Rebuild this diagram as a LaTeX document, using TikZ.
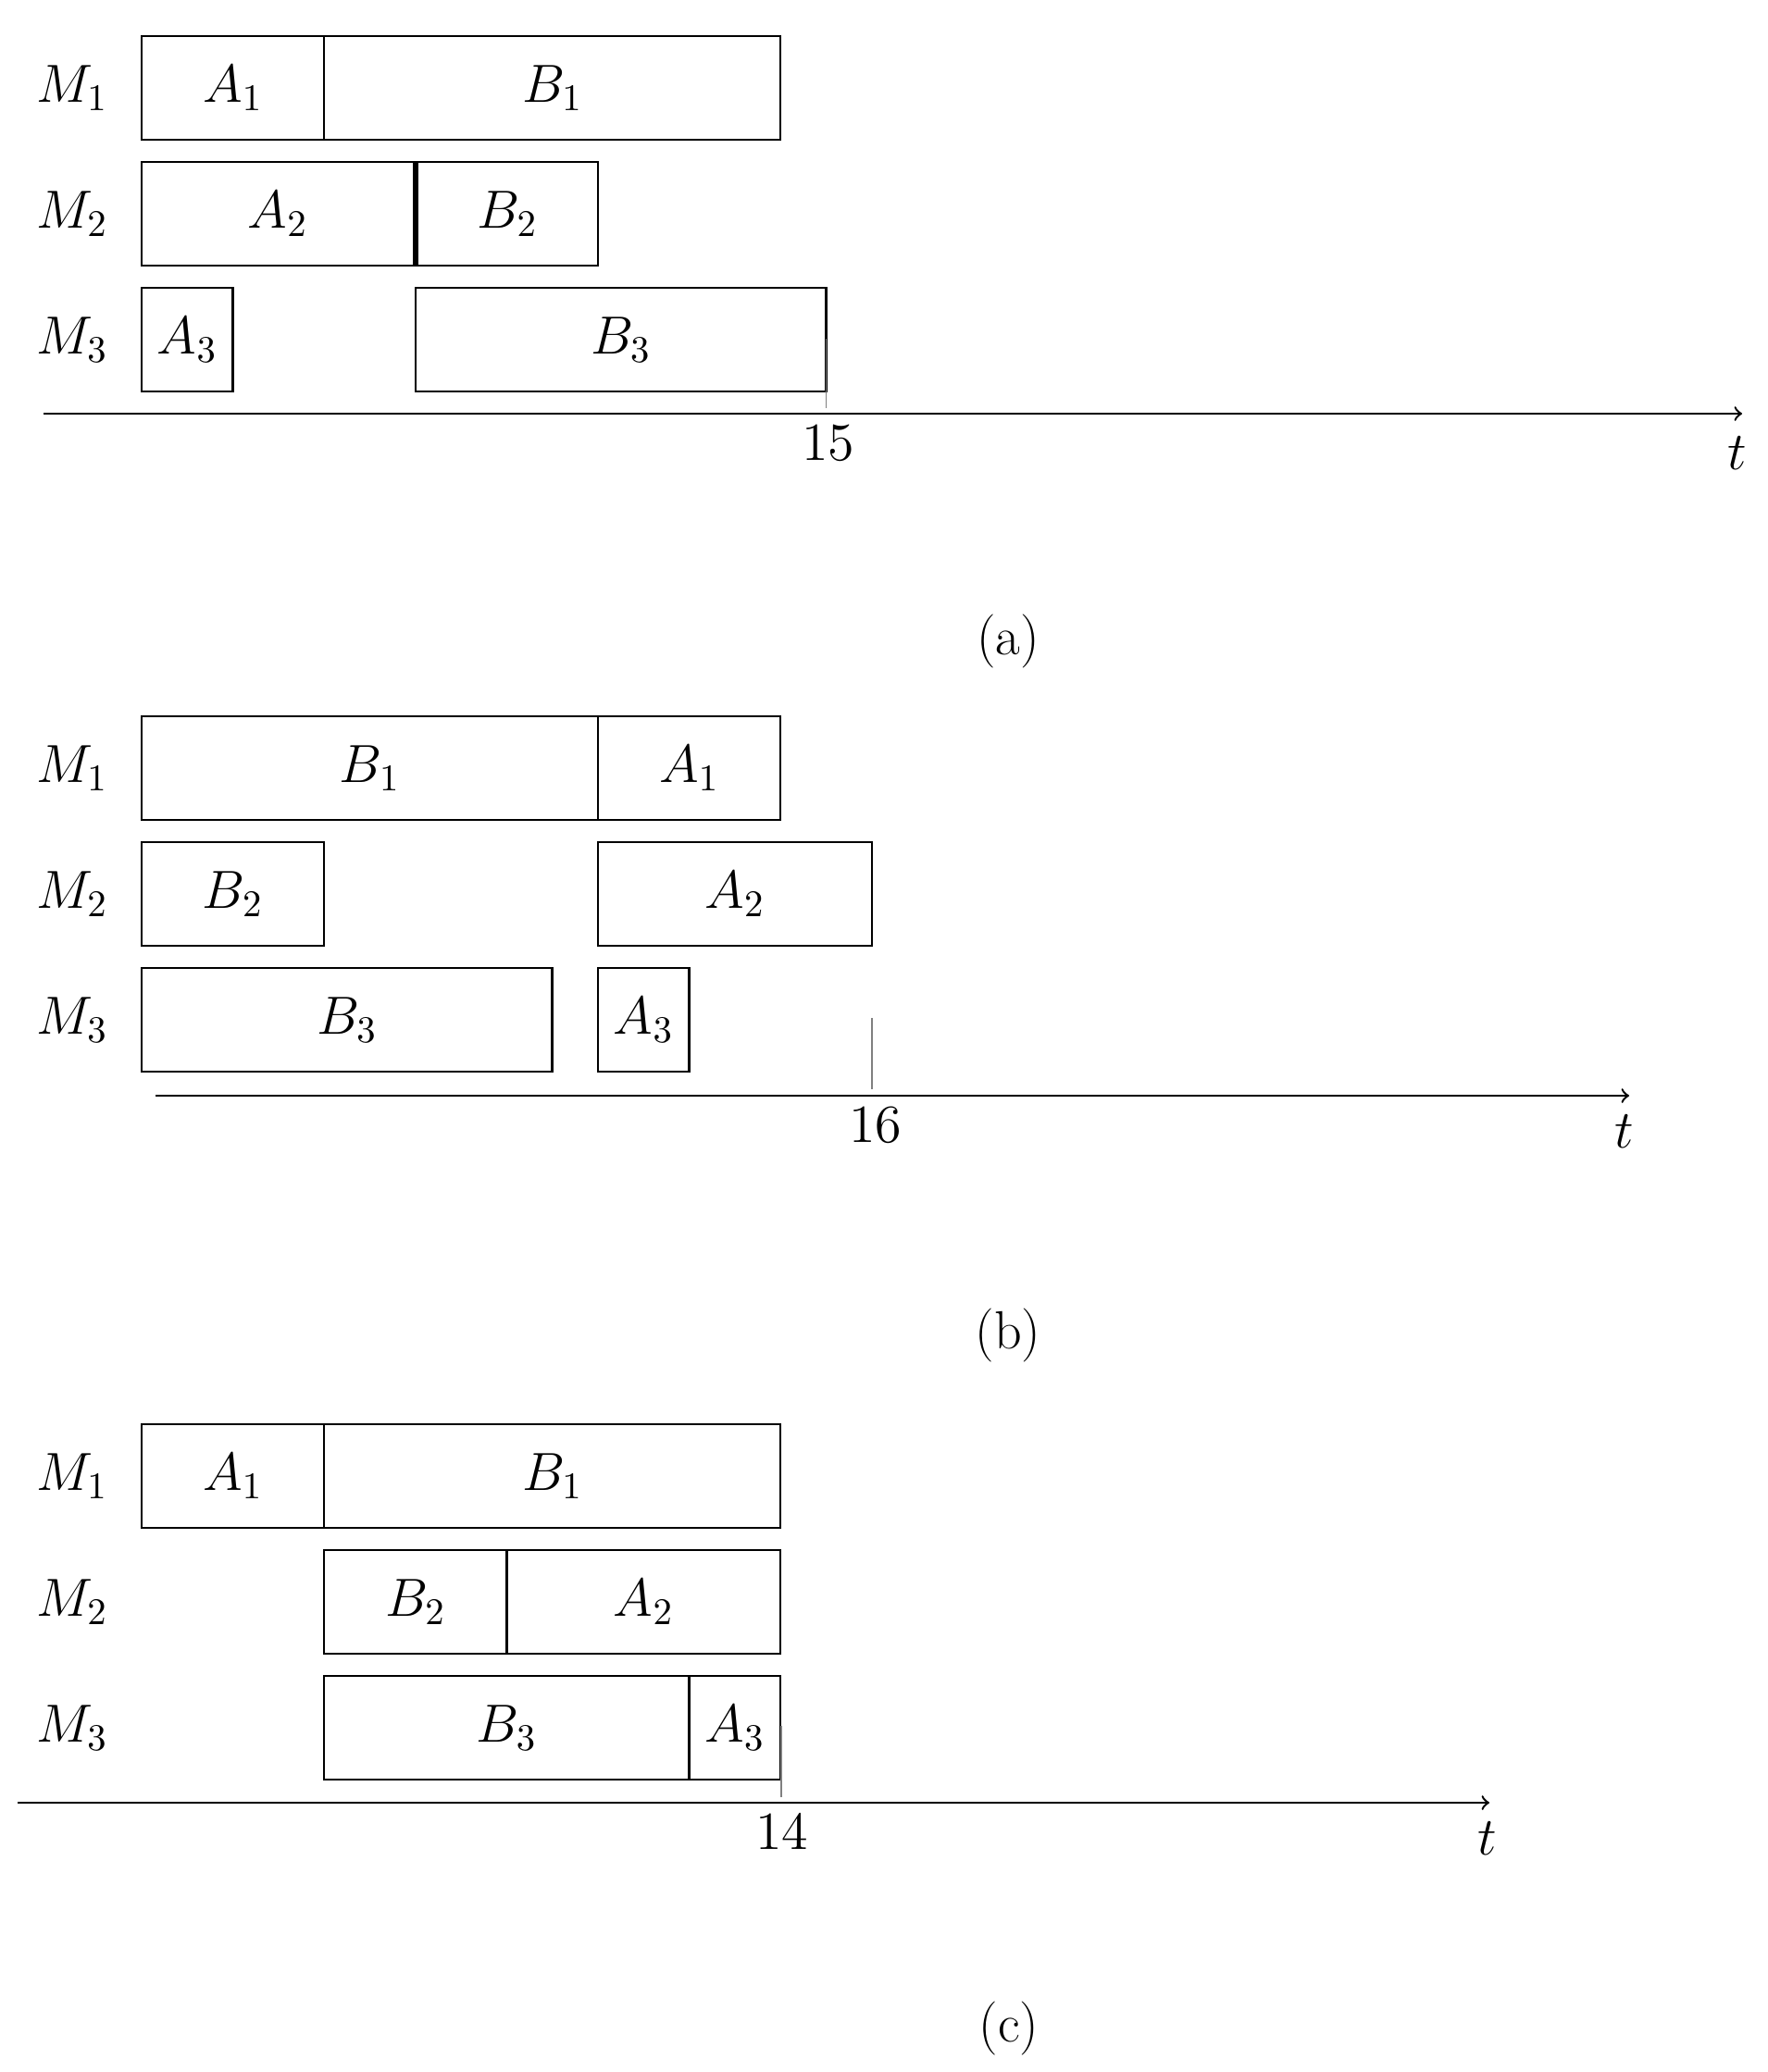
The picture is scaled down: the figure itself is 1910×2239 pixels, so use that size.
\RequirePackage{fix-cm}
\documentclass[tikz,border=0pt]{standalone}
\newcommand\fsz{\fontsize{16.5}{20}\selectfont}
\tikzset{
  jobbox/.style={draw, line width=0.7pt, rectangle, inner sep=0pt, minimum height=1.12cm, font=\fsz},
  lbl/.style={inner sep=0pt, font=\fsz},
  timeaxis/.style={->, line width=0.7pt},
  tickline/.style={draw=gray, line width=0.4pt},
}
% \jobnode{name}{t1}{t2}{ycentre}{label}
\newcommand\jobnode[5]{\node[jobbox, minimum width={49.3*(#3-#2)*0.01cm}] (#1) at ({153+49.3*(#2+#3)/2},#4) {$#5$};}
\begin{document}
\begin{tikzpicture}[x=0.01cm, y=-0.01cm]
\useasboundingbox (0,0) rectangle (1910,2239);

% ---------------- (a) ----------------
\node[lbl] (a-m1) at (78,95) {$M_1$};
\node[lbl] (a-m2) at (78,231) {$M_2$};
\node[lbl] (a-m3) at (78,367) {$M_3$};
\jobnode{a-A1}{0}{4}{95}{A_1}
\jobnode{a-B1}{4}{14}{95}{B_1}
\jobnode{a-A2}{0}{5.97}{231}{A_2}
\jobnode{a-B2}{6.03}{10}{231}{B_2}
\jobnode{a-A3}{0}{2}{367}{A_3}
\jobnode{a-B3}{6}{15}{367}{B_3}
\coordinate (a-axl) at (47,447);
\coordinate (a-axr) at (1882,447);
\draw[timeaxis] (a-axl) -- (a-axr);
\coordinate (a-tk1) at (892.5,366);
\coordinate (a-tk2) at (892.5,441);
\draw[tickline] (a-tk1) -- (a-tk2);
\node[lbl] (a-15) at (895,479) {$15$};
\node[lbl] (a-t) at (1877,490) {$t$};
\node[lbl] (a-cap) at (1089,693) {(a)};

% ---------------- (b) ----------------
\node[lbl] (b-m1) at (78,830) {$M_1$};
\node[lbl] (b-m2) at (78,966) {$M_2$};
\node[lbl] (b-m3) at (78,1102) {$M_3$};
\jobnode{b-B1}{0}{10}{830}{B_1}
\jobnode{b-A1}{10}{14}{830}{A_1}
\jobnode{b-B2}{0}{4}{966}{B_2}
\jobnode{b-A2}{10}{16}{966}{A_2}
\jobnode{b-B3}{0}{9}{1102}{B_3}
\jobnode{b-A3}{10}{12}{1102}{A_3}
\coordinate (b-axl) at (168,1184);
\coordinate (b-axr) at (1760,1184);
\draw[timeaxis] (b-axl) -- (b-axr);
\coordinate (b-tk1) at (942,1100);
\coordinate (b-tk2) at (942,1177);
\draw[tickline] (b-tk1) -- (b-tk2);
\node[lbl] (b-16) at (946,1216) {$16$};
\node[lbl] (b-t) at (1755,1223) {$t$};
\node[lbl] (b-cap) at (1089,1443) {(b)};

% ---------------- (c) ----------------
\node[lbl] (c-m1) at (78,1595) {$M_1$};
\node[lbl] (c-m2) at (78,1731) {$M_2$};
\node[lbl] (c-m3) at (78,1867) {$M_3$};
\jobnode{c-A1}{0}{4}{1595}{A_1}
\jobnode{c-B1}{4}{14}{1595}{B_1}
\jobnode{c-B2}{4}{8}{1731}{B_2}
\jobnode{c-A2}{8}{14}{1731}{A_2}
\jobnode{c-B3}{4}{12}{1867}{B_3}
\jobnode{c-A3}{12}{14}{1867}{A_3}
\coordinate (c-axl) at (19,1948);
\coordinate (c-axr) at (1609,1948);
\draw[timeaxis] (c-axl) -- (c-axr);
\coordinate (c-tk1) at (844,1865);
\coordinate (c-tk2) at (844,1942);
\draw[tickline] (c-tk1) -- (c-tk2);
\node[lbl] (c-14) at (845,1980) {$14$};
\node[lbl] (c-t) at (1607,1987) {$t$};
\node[lbl] (c-cap) at (1090,2192) {(c)};
\end{tikzpicture}
\end{document}
